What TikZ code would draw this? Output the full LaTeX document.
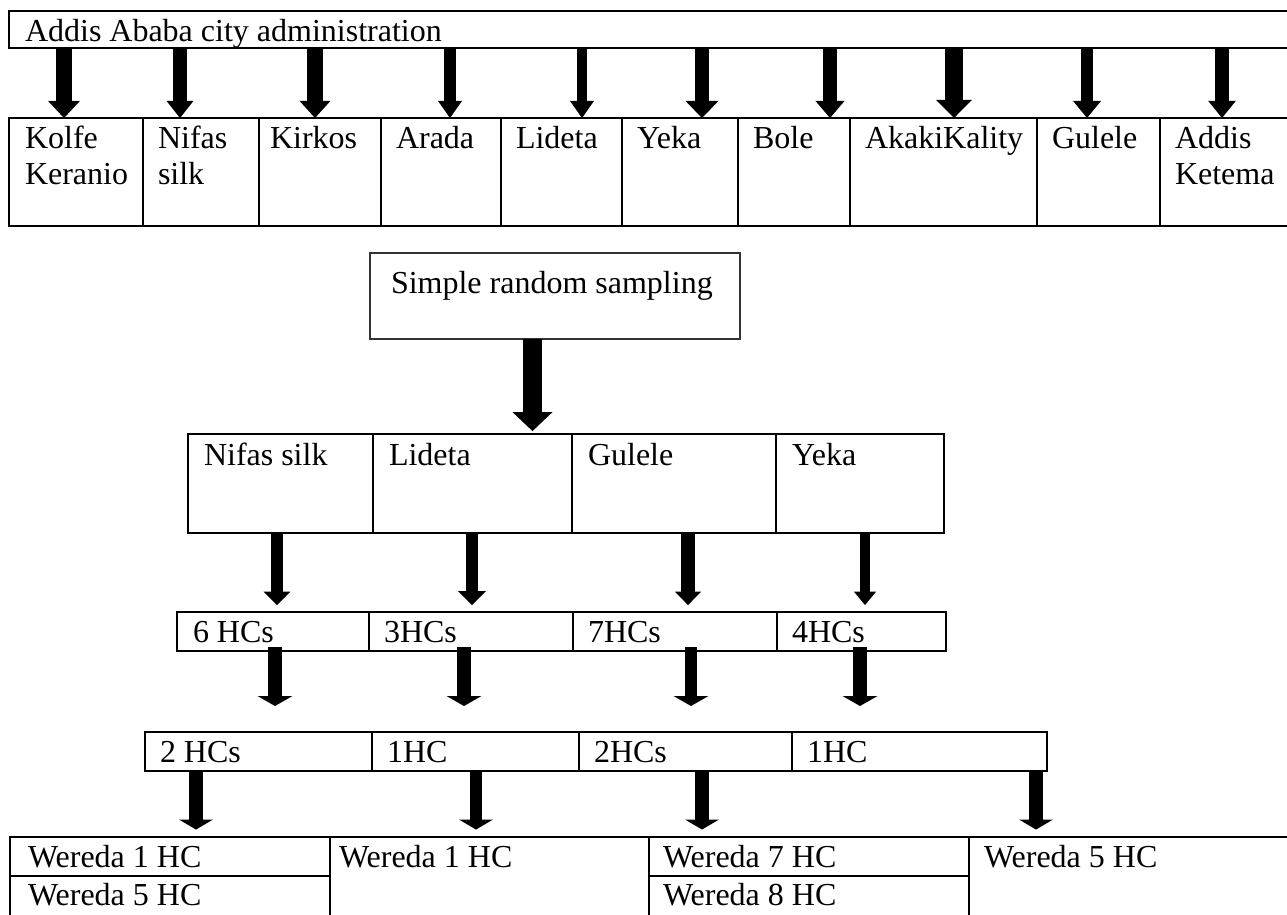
\documentclass[tikz,border=0pt]{standalone}
\usepackage{fontspec}
\setmainfont{Liberation Serif}
\usetikzlibrary{arrows.meta}
\newdimen\px \px=0.375pt
% \cellbox{left pad}{first baseline}{width}{height}{text}  (all in px)
\newcommand\cellbox[5]{\parbox[b][#4\px][t]{#3\px}{\raggedright\leftskip=#1\px\rule{0pt}{#2\px}#5}}
\tikzset{
  cell/.style={draw, line width=0.9pt, inner sep=0pt, outer sep=0pt, anchor=north west,
               font=\fontsize{12pt}{13.8pt}\selectfont},
  srsbox/.style={cell, line width=0.55pt, draw=black!80},
  barrow/.style n args={3}{draw, line width=#1pt,
               -{Triangle[width=#2pt, length=#3pt, line width=0pt]}},
}
\begin{document}
\begin{tikzpicture}[x=0.375pt, y=-0.375pt]
\clip (0,0) rectangle (1287,914);

% top box
\node[cell] (top) at (9,11) {\cellbox{16}{30}{1300}{37}{Addis Ababa city administration}};

% district row
\node[cell] (d1)  at (9,118)    {\cellbox{16}{30}{134}{108}{Kolfe\\Keranio}};
\node[cell] (d2)  at (143,118)  {\cellbox{15}{30}{116}{108}{Nifas\\silk}};
\node[cell] (d3)  at (259,118)  {\cellbox{11}{30}{122}{108}{Kirkos}};
\node[cell] (d4)  at (381,118)  {\cellbox{15}{30}{120}{108}{Arada}};
\node[cell] (d5)  at (501,118)  {\cellbox{15}{30}{121}{108}{Lideta}};
\node[cell] (d6)  at (622,118)  {\cellbox{15}{30}{116}{108}{Yeka}};
\node[cell] (d7)  at (738,118)  {\cellbox{15}{30}{112}{108}{Bole}};
\node[cell] (d8)  at (850,118)  {\cellbox{15}{30}{187}{108}{AkakiKality}};
\node[cell] (d9)  at (1037,118) {\cellbox{15}{30}{123}{108}{Gulele}};
\node[cell] (d10) at (1160,118) {\cellbox{15}{30}{150}{108}{Addis\\Ketema}};

% simple random sampling
\node[srsbox] (srs) at (370,253) {\cellbox{21}{40}{370}{86}{Simple random sampling}};

% sampled sub-cities
\node[cell] (s1) at (188,434) {\cellbox{16}{31}{185}{99}{Nifas silk}};
\node[cell] (s2) at (373,434) {\cellbox{16}{31}{199}{99}{Lideta}};
\node[cell] (s3) at (572,434) {\cellbox{16}{31}{204}{99}{Gulele}};
\node[cell] (s4) at (776,434) {\cellbox{16}{31}{168}{99}{Yeka}};

% health centres
\node[cell] (h1) at (177,612) {\cellbox{16}{30}{192}{39}{6 HCs}};
\node[cell] (h2) at (369,612) {\cellbox{15}{30}{204}{39}{3HCs}};
\node[cell] (h3) at (573,612) {\cellbox{15}{30}{204}{39}{7HCs}};
\node[cell] (h4) at (777,612) {\cellbox{15}{30}{169}{39}{4HCs}};

% selected health centres
\node[cell] (n1) at (145,732) {\cellbox{15}{30}{227}{39}{2 HCs}};
\node[cell] (n2) at (372,732) {\cellbox{15}{30}{207}{39}{1HC}};
\node[cell] (n3) at (579,732) {\cellbox{15}{30}{213}{39}{2HCs}};
\node[cell] (n4) at (792,732) {\cellbox{15}{30}{255}{39}{1HC}};

% weredas
\node[cell] (w1a) at (10,837)  {\cellbox{18}{30}{320}{39}{Wereda 1 HC}};
\node[cell] (w1b) at (10,876)  {\cellbox{18}{29}{320}{64}{Wereda 5 HC}};
\node[cell] (w2)  at (330,837) {\cellbox{9}{30}{319}{103}{Wereda 1 HC}};
\node[cell] (w3a) at (649,837) {\cellbox{14}{30}{320}{39}{Wereda 7 HC}};
\node[cell] (w3b) at (649,876) {\cellbox{14}{29}{320}{64}{Wereda 8 HC}};
\node[cell] (w4)  at (969,837) {\cellbox{15}{30}{341}{103}{Wereda 5 HC}};

% arrow x positions
\coordinate (ax1) at (64,0);   \coordinate (ax2) at (180,0);
\coordinate (ax3) at (315,0);  \coordinate (ax4) at (450,0);
\coordinate (ax5) at (582,0);  \coordinate (ax6) at (702,0);
\coordinate (ax7) at (830,0);  \coordinate (ax8) at (954,0);
\coordinate (ax9) at (1087,0); \coordinate (ax10) at (1222,0);
\coordinate (sx) at (532.5,0);
\coordinate (bx1) at (277,0); \coordinate (bx2) at (472,0);
\coordinate (bx3) at (688,0); \coordinate (bx4) at (865,0);
\coordinate (cx1) at (275,0); \coordinate (cx2) at (464,0);
\coordinate (cx3) at (691,0); \coordinate (cx4) at (860,0);
\coordinate (ex1) at (196,0); \coordinate (ex2) at (476,0);
\coordinate (ex3) at (702,0); \coordinate (ex4) at (1036,0);

% top arrows
\draw[barrow={6}{12}{6.4}]      (top.south -| ax1)  -- (d1.north -| ax1);
\draw[barrow={4.9}{10.1}{6.4}]  (top.south -| ax2)  -- (d2.north -| ax2);
\draw[barrow={6}{11.6}{6.4}]    (top.south -| ax3)  -- (d3.north -| ax3);
\draw[barrow={4.3}{9}{6.4}]     (top.south -| ax4)  -- (d4.north -| ax4);
\draw[barrow={3.75}{9}{6.4}]    (top.south -| ax5)  -- (d5.north -| ax5);
\draw[barrow={5.1}{12.4}{6.4}]  (top.south -| ax6)  -- (d6.north -| ax6);
\draw[barrow={5.1}{10.9}{6.4}]  (top.south -| ax7)  -- (d7.north -| ax7);
\draw[barrow={6.9}{13.5}{6.8}]  (top.south -| ax8)  -- (d8.north -| ax8);
\draw[barrow={4.65}{10.5}{6.4}] (top.south -| ax9)  -- (d9.north -| ax9);
\draw[barrow={5.1}{10.35}{6.4}] (top.south -| ax10) -- (d10.north -| ax10);

% sampling arrow
\draw[barrow={7.1}{15}{7.1}, shorten >=1.1pt] (srs.south -| sx) -- (s2.north -| sx);

% sampled -> HCs
\draw[barrow={4.4}{10.1}{5},   shorten >=2.6pt] (s1.south -| bx1) -- (h1.north -| bx1);
\draw[barrow={4.5}{10.5}{5.2}, shorten >=2.6pt] (s2.south -| bx2) -- (h2.north -| bx2);
\draw[barrow={4.9}{9.75}{5},   shorten >=2.6pt] (s3.south -| bx3) -- (h3.north -| bx3);
\draw[barrow={4.1}{8.25}{5},   shorten >=2.6pt] (s4.south -| bx4) -- (h4.north -| bx4);

% HCs -> selected HCs
\draw[barrow={4.9}{13.1}{3.75},  shorten <=-1.5pt, shorten >=9.75pt] (h1.south -| cx1) -- (n1.north -| cx1);
\draw[barrow={5.25}{13.1}{3.75}, shorten <=-1.5pt, shorten >=9.75pt] (h2.south -| cx2) -- (n2.north -| cx2);
\draw[barrow={4.5}{13.1}{3.75},  shorten <=-1.5pt, shorten >=9.75pt] (h3.south -| cx3) -- (n3.north -| cx3);
\draw[barrow={4.9}{13.1}{3.75},  shorten <=-1.5pt, shorten >=9.75pt] (h4.south -| cx4) -- (n4.north -| cx4);

% selected HCs -> weredas
\draw[barrow={4.9}{12.75}{3.75}, shorten >=2.8pt] (n1.south -| ex1) -- (w1a.north -| ex1);
\draw[barrow={4.7}{12.75}{3.75}, shorten >=2.8pt] (n2.south -| ex2) -- (w2.north -| ex2);
\draw[barrow={4.9}{12.75}{3.75}, shorten >=2.8pt] (n3.south -| ex3) -- (w3a.north -| ex3);
\draw[barrow={4.9}{12.75}{3.75}, shorten >=2.8pt] (n4.south -| ex4) -- (w4.north -| ex4);
\end{tikzpicture}
\end{document}
